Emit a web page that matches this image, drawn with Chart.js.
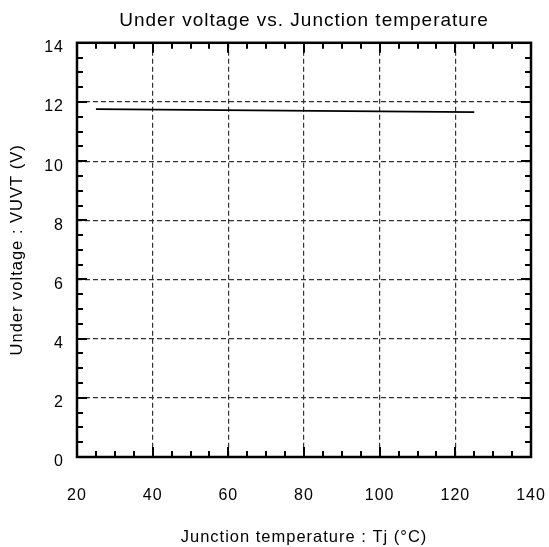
<!DOCTYPE html>
<html><head><meta charset="utf-8">
<script src="https://cdn.jsdelivr.net/npm/chart.js@4.4.1/dist/chart.umd.min.js"></script>
<style>html,body{margin:0;padding:0;background:#fff}#wrap{width:549px;height:547px}</style>
</head><body><div id="wrap"><canvas id="c" width="549" height="547"></canvas></div>
<script>
const temperature = [25, 125];
const underVoltage = [11.76, 11.66];
const xTicks = [20, 40, 60, 80, 100, 120, 140];
const yTicks = [0, 2, 4, 6, 8, 10, 12, 14];

const FONT = 'Liberation Sans, Arial, sans-serif';

const spacing = {
  id: 'spacing',
  beforeUpdate(chart) { chart.ctx.letterSpacing = '1px'; },
  beforeLayout(chart) { chart.ctx.letterSpacing = '1px'; },
  beforeDraw(chart) { chart.ctx.letterSpacing = '1px'; }
};

const frame = {
  id: 'frame',
  afterDatasetsDraw(chart) {
    const {ctx, chartArea: a, scales: {x, y}} = chart;
    ctx.save();
    ctx.strokeStyle = '#000';
    ctx.lineWidth = 2;
    ctx.beginPath();
    for (let v = 20; v <= 140; v += 5) {
      const p = Math.round(x.getPixelForValue(v));
      const len = (v % 20 === 0) ? 10 : 6;
      ctx.moveTo(p, a.bottom); ctx.lineTo(p, a.bottom - len);
      ctx.moveTo(p, a.top); ctx.lineTo(p, a.top + len);
    }
    for (let v = 0; v <= 14; v += 0.5) {
      const p = Math.round(y.getPixelForValue(v));
      const len = (Math.abs(v % 2) < 1e-9) ? 10 : 6;
      ctx.moveTo(a.left, p); ctx.lineTo(a.left + len, p);
      ctx.moveTo(a.right, p); ctx.lineTo(a.right - len, p);
    }
    ctx.stroke();
    ctx.lineWidth = 2.5;
    ctx.strokeRect(a.left, a.top, a.right - a.left, a.bottom - a.top);
    ctx.restore();
  }
};

new Chart(document.getElementById('c'), {
  type: 'scatter',
  data: {
    datasets: [{
      data: temperature.map((t, i) => ({x: t, y: underVoltage[i]})),
      showLine: true,
      borderColor: '#000',
      borderWidth: 1.8,
      pointRadius: 0,
      fill: false
    }]
  },
  options: {
    responsive: false,
    animation: false,
    layout: {padding: {left: 0, right: 18, top: 0, bottom: 0}},
    plugins: {
      legend: {display: false},
      tooltip: {enabled: false},
      title: {
        display: true,
        fullSize: false,
        text: 'Under voltage vs. Junction temperature',
        color: '#000',
        font: {family: FONT, size: 19, weight: 'normal', lineHeight: 1.2},
        padding: {top: 9, bottom: 11}
      }
    },
    scales: {
      x: {
        type: 'linear', min: 20, max: 140,
        afterBuildTicks: s => { s.ticks = xTicks.map(v => ({value: v})); },
        afterFit: s => { s.height = 90; s.paddingLeft = 0; s.paddingRight = 0; },
        grid: {color: '#333', lineWidth: 1.2, tickLength: 0, drawTicks: false},
        border: {display: false, dash: [5, 3]},
        ticks: {color: '#000', padding: 29, font: {family: FONT, size: 16}},
        title: {display: true, text: 'Junction temperature : Tj (°C)', color: '#000',
          font: {family: FONT, size: 16.5, lineHeight: 1.2}, padding: {top: 6, bottom: 0}}
      },
      y: {
        type: 'linear', min: 0, max: 14,
        afterBuildTicks: s => { s.ticks = yTicks.map(v => ({value: v})); },
        afterFit: s => { s.width = 77; s.paddingTop = 0; s.paddingBottom = 0; },
        grid: {color: '#333', lineWidth: 1.2, tickLength: 0, drawTicks: false},
        border: {display: false, dash: [5, 3]},
        ticks: {color: '#000', padding: 13, labelOffset: 5, font: {family: FONT, size: 16}},
        title: {display: true, text: 'Under voltage : VUVT (V)', color: '#000',
          font: {family: FONT, size: 16.5, lineHeight: 1.2}, padding: {top: 8, bottom: 0}}
      }
    }
  },
  plugins: [spacing, frame]
});
</script></body></html>
